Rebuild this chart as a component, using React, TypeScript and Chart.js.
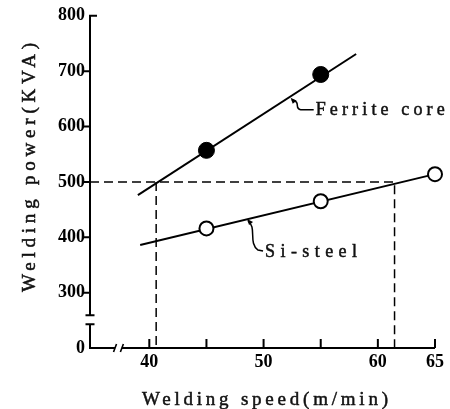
import { useEffect, useRef } from "react";
import { Chart, registerables } from "chart.js";

Chart.register(...registerables);

// ---- data ----
const ferritePoints = [
  { x: 45, y: 557 },
  { x: 55, y: 694 },
];
const ferriteFit = [
  { x: 39.0, y: 476 },
  { x: 58.1, y: 731 },
];
const siSteelPoints = [
  { x: 45, y: 416 },
  { x: 55, y: 465 },
  { x: 65, y: 514 },
];
const siSteelFit = [
  { x: 39.2, y: 386 },
  { x: 65, y: 514 },
];
const targetPower = 500;
const speedsAtTarget = [40.6, 61.46]; // ferrite, si-steel
const xTickValues = [40, 45, 50, 55, 60, 65];
const xTickLabels = ["40", "", "50", "", "60", "65"];
const yTickValues = [200, 300, 400, 500, 600, 700, 800];
const yTickLabels = ["0", "300", "400", "500", "600", "700", "800"];
const X_MIN = 34.81;
const X_MAX = 65;
const Y_MIN = 200; // shown as "0" below the axis break
const Y_MAX = 800;
const yBreak = [259, 243];
const xBreak = [37.0, 37.6];
const ferriteLabelAt = 52.46;
const siSteelLabelAt = 48.64;

const SERIF = "'Liberation Serif', 'DejaVu Serif', serif";

function lineY(fit: { x: number; y: number }[], x: number) {
  const [a, b] = fit;
  return a.y + ((x - a.x) * (b.y - a.y)) / (b.x - a.x);
}

function spacedText(
  ctx: CanvasRenderingContext2D,
  text: string,
  x: number,
  y: number,
  width: number,
  font: string
) {
  ctx.font = font;
  (ctx as any).letterSpacing = "0px";
  const w = ctx.measureText(text).width;
  const ls = Math.max(0, (width - w) / (text.length - 1));
  (ctx as any).letterSpacing = ls + "px";
  ctx.textAlign = "left";
  ctx.lineWidth = 0.5;
  ctx.strokeStyle = ctx.fillStyle as string;
  ctx.fillText(text, x, y);
  ctx.strokeText(text, x, y);
  (ctx as any).letterSpacing = "0px";
}

const decorPlugin = {
  id: "decor",
  beforeDraw(chart: any) {
    const ctx = chart.ctx as CanvasRenderingContext2D;
    ctx.save();
    ctx.fillStyle = "#fff";
    ctx.fillRect(0, 0, chart.width, chart.height);
    ctx.restore();
  },
  afterDraw(chart: any) {
    const ctx = chart.ctx as CanvasRenderingContext2D;
    const xs = chart.scales.x;
    const ys = chart.scales.y;
    const area = chart.chartArea;
    const L = area.left;
    const B = area.bottom;
    ctx.save();
    ctx.strokeStyle = "#000";
    ctx.fillStyle = "#000";
    ctx.lineWidth = 2;
    ctx.lineCap = "butt";

    // y axis with break
    const yb1 = ys.getPixelForValue(yBreak[0]);
    const yb2 = ys.getPixelForValue(yBreak[1]);
    ctx.beginPath();
    ctx.moveTo(L, area.top);
    ctx.lineTo(L, yb1);
    ctx.moveTo(L - 4.5, yb1);
    ctx.lineTo(L + 4.5, yb1);
    ctx.moveTo(L - 4.5, yb2);
    ctx.lineTo(L + 4.5, yb2);
    ctx.moveTo(L, yb2);
    ctx.lineTo(L, B + 1);
    ctx.stroke();

    // x axis with break
    const xb1 = xs.getPixelForValue(xBreak[0]);
    const xb2 = xs.getPixelForValue(xBreak[1]);
    ctx.beginPath();
    ctx.moveTo(L - 1, B);
    ctx.lineTo(xb1, B);
    ctx.moveTo(xb2, B);
    ctx.lineTo(area.right, B);
    ctx.stroke();
    ctx.lineWidth = 1.6;
    ctx.beginPath();
    ctx.moveTo(xb1 - 1.5, B + 4);
    ctx.lineTo(xb1 + 1.5, B - 4);
    ctx.moveTo(xb2 - 1.5, B + 4);
    ctx.lineTo(xb2 + 1.5, B - 4);
    ctx.stroke();

    // ticks
    ctx.lineWidth = 2;
    ctx.beginPath();
    yTickValues.forEach((v) => {
      if (v === Y_MIN) return;
      const p = ys.getPixelForValue(v);
      if (v === Y_MAX) {
        ctx.moveTo(L - 1, p);
        ctx.lineTo(L + 7, p);
      } else {
        ctx.moveTo(L - 7, p);
        ctx.lineTo(L, p);
      }
    });
    xTickValues.forEach((v) => {
      const p = xs.getPixelForValue(v);
      ctx.moveTo(p, B);
      ctx.lineTo(p, B - 9);
    });
    ctx.stroke();

    // axis titles
    ctx.fillStyle = "#111";
    ctx.textBaseline = "alphabetic";
    spacedText(ctx, "Welding speed(m/min)", 142, 405, 246, `19px ${SERIF}`);
    ctx.save();
    ctx.translate(35, 292);
    ctx.rotate(-Math.PI / 2);
    spacedText(ctx, "Welding power(KVA)", 0, 0, 249, `19px ${SERIF}`);
    ctx.restore();

    // annotations with leaders
    const drawLeader = (
      ax: number,
      ay: number,
      pts: number[][],
      text: string,
      width: number
    ) => {
      ctx.lineWidth = 1.5;
      ctx.strokeStyle = "#000";
      ctx.beginPath();
      ctx.moveTo(ax, ay);
      ctx.bezierCurveTo(ax + pts[0][0], ay + pts[0][1], ax + pts[1][0], ay + pts[1][1], ax + pts[2][0], ay + pts[2][1]);
      ctx.lineTo(ax + pts[3][0], ay + pts[3][1]);
      ctx.stroke();
      // arrow head
      ctx.fillStyle = "#000";
      ctx.beginPath();
      ctx.moveTo(ax - 1, ay - 2);
      ctx.lineTo(ax + 5, ay + 1);
      ctx.lineTo(ax + 1, ay + 4);
      ctx.closePath();
      ctx.fill();
      ctx.fillStyle = "#111";
      ctx.textBaseline = "middle";
      spacedText(ctx, text, ax + pts[3][0] + 2, ay + pts[3][1] + 1, width, `18px ${SERIF}`);
    };
    const fx = xs.getPixelForValue(ferriteLabelAt);
    const fy = ys.getPixelForValue(lineY(ferriteFit, ferriteLabelAt)) + 4;
    drawLeader(fx, fy, [[10, 2], [2, 9], [9, 10], [22, 10]], "Ferrite core", 129);
    const sx = xs.getPixelForValue(siSteelLabelAt);
    const sy = ys.getPixelForValue(lineY(siSteelFit, siSteelLabelAt)) + 2;
    drawLeader(sx, sy, [[9, 6], [0, 22], [10, 29], [15, 30]], "Si-steel", 92);

    ctx.restore();
  },
};

export default function App() {
  const ref = useRef<HTMLCanvasElement | null>(null);
  useEffect(() => {
    if (!ref.current) return;
    const chart = new Chart(ref.current, {
      type: "scatter",
      data: {
        datasets: [
          {
            label: "Ferrite core",
            data: ferritePoints,
            showLine: false,
            pointRadius: 8,
            pointBackgroundColor: "#000",
            pointBorderColor: "#000",
            pointBorderWidth: 1,
            order: 0,
            clip: false as any,
          },
          {
            label: "Si-steel",
            data: siSteelPoints,
            showLine: false,
            pointRadius: 7,
            pointBackgroundColor: "#fff",
            pointBorderColor: "#000",
            pointBorderWidth: 2,
            order: 0,
            clip: false as any,
          },
          {
            label: "Ferrite fit",
            data: ferriteFit,
            showLine: true,
            borderColor: "#000",
            borderWidth: 2,
            pointRadius: 0,
            order: 1,
            clip: false as any,
          },
          {
            label: "Si-steel fit",
            data: siSteelFit,
            showLine: true,
            borderColor: "#000",
            borderWidth: 2,
            pointRadius: 0,
            order: 1,
            clip: false as any,
          },
          {
            label: "Guide si-steel",
            data: [
              { x: X_MIN, y: targetPower },
              { x: speedsAtTarget[1], y: targetPower },
              { x: speedsAtTarget[1], y: Y_MIN },
            ],
            showLine: true,
            borderColor: "#000",
            borderWidth: 1.5,
            borderDash: [9, 5],
            pointRadius: 0,
            order: 2,
          },
          {
            label: "Guide ferrite",
            data: [
              { x: speedsAtTarget[0], y: targetPower },
              { x: speedsAtTarget[0], y: Y_MIN },
            ],
            showLine: true,
            borderColor: "#000",
            borderWidth: 1.5,
            borderDash: [9, 5],
            pointRadius: 0,
            order: 2,
          },
        ],
      },
      options: {
        responsive: false,
        animation: false,
        layout: { padding: { top: 15, right: 15, left: 0, bottom: 0 } },
        plugins: {
          legend: { display: false },
          tooltip: { enabled: false },
        },
        scales: {
          x: {
            type: "linear",
            min: X_MIN,
            max: X_MAX,
            grid: { display: false, drawTicks: false },
            border: { display: false },
            afterBuildTicks: (s: any) => {
              s.ticks = xTickValues.map((v) => ({ value: v }));
            },
            afterFit: (s: any) => {
              s.height = 61;
            },
            ticks: {
              autoSkip: false,
              maxRotation: 0,
              padding: 4,
              color: "#000",
              font: { family: SERIF, size: 18, weight: "bold" },
              callback: (v: any) => {
                const i = xTickValues.indexOf(Number(v));
                return i >= 0 ? xTickLabels[i] : "";
              },
            },
          },
          y: {
            type: "linear",
            min: Y_MIN,
            max: Y_MAX,
            grid: { display: false, drawTicks: false },
            border: { display: false },
            afterBuildTicks: (s: any) => {
              s.ticks = yTickValues.map((v) => ({ value: v }));
            },
            afterFit: (s: any) => {
              s.width = 90;
            },
            ticks: {
              autoSkip: false,
              padding: 5,
              color: "#000",
              font: { family: SERIF, size: 18, weight: "bold" },
              callback: (v: any) => {
                const i = yTickValues.indexOf(Number(v));
                return i >= 0 ? yTickLabels[i] : "";
              },
            },
          },
        },
      },
      plugins: [decorPlugin],
    });
    return () => chart.destroy();
  }, []);
  return (
    <div style={{ position: "fixed", left: 0, top: 0, width: 450, height: 409, background: "#fff" }}>
      <canvas ref={ref} width={450} height={409} style={{ display: "block" }} />
    </div>
  );
}
